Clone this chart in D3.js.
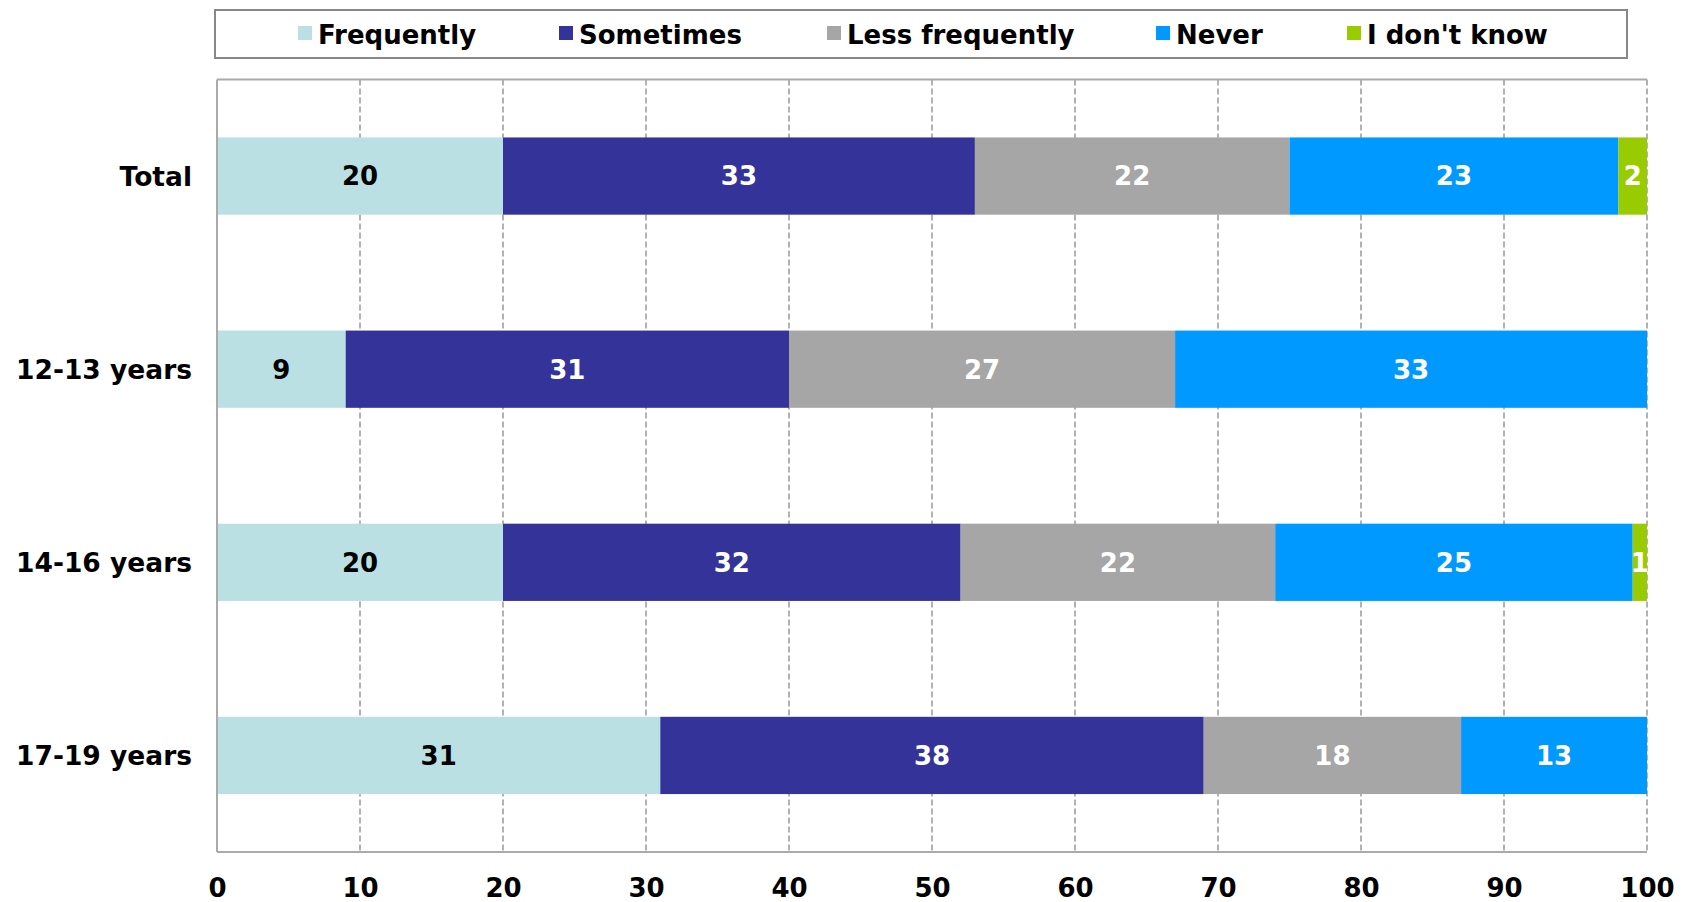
<!DOCTYPE html>
<html>
<head>
<meta charset="utf-8">
<script src="https://cdn.jsdelivr.net/npm/d3@7"></script>
<style>
  html, body { margin: 0; padding: 0; background: #fff; }
  svg { display: block; font-family: "DejaVu Sans", Verdana, sans-serif; font-weight: bold; }
</style>
</head>
<body>
<svg id="chart" width="1682" height="902"></svg>
<script>
// Age groups shown as rows
const categories = ["Total", "12-13 years", "14-16 years", "17-19 years"];

// Answer options (stack order, left to right)
const seriesNames = ["Frequently", "Sometimes", "Less frequently", "Never", "I don't know"];
const seriesColors = ["#BBE0E3", "#333399", "#A6A6A6", "#0099FF", "#99CC00"];
const labelColors = ["#000000", "#ffffff", "#ffffff", "#ffffff", "#ffffff"];

// Percentages per series, one value per category
const frequently     = [20, 9, 20, 31];
const sometimes      = [33, 31, 32, 38];
const lessFrequently = [22, 27, 22, 18];
const never          = [23, 33, 25, 13];
const dontKnow       = [2, 0, 1, 0];

const xTicks = [0, 10, 20, 30, 40, 50, 60, 70, 80, 90, 100];

const seriesValues = [frequently, sometimes, lessFrequently, never, dontKnow];

const rows = categories.map((c, i) => {
  const r = { category: c };
  seriesNames.forEach((s, j) => { r[s] = seriesValues[j][i]; });
  return r;
});

const svg = d3.select("#chart");
const margin = { left: 217, right: 35, top: 79.5, bottom: 50 };
const W = 1682, H = 902;
const x = d3.scaleLinear().domain([0, 100]).range([margin.left, W - margin.right]);
const y = d3.scaleBand().domain(categories).range([margin.top, H - margin.bottom]).paddingInner(0.6).paddingOuter(0.3);

// Gridlines (dashed)
svg.append("g")
  .selectAll("line")
  .data(xTicks.filter(t => t > 0))
  .join("line")
  .attr("x1", d => x(d)).attr("x2", d => x(d))
  .attr("y1", margin.top).attr("y2", H - margin.bottom)
  .attr("stroke", "#999")
  .attr("stroke-width", 1.5)
  .attr("stroke-dasharray", "6,3");

// Stacked bars
const stack = d3.stack().keys(seriesNames);
const layers = stack(rows);

const layerG = svg.append("g")
  .selectAll("g")
  .data(layers)
  .join("g")
  .attr("fill", (d, i) => seriesColors[i]);

layerG.selectAll("rect")
  .data(d => d.filter(p => p[1] - p[0] > 0))
  .join("rect")
  .attr("x", d => x(d[0]))
  .attr("width", d => x(d[1]) - x(d[0]))
  .attr("y", d => y(d.data.category))
  .attr("height", y.bandwidth());

// Value labels
layerG.each(function (layer, i) {
  d3.select(this).selectAll("text")
    .data(layer.filter(p => p[1] - p[0] > 0))
    .join("text")
    .attr("x", d => (x(d[0]) + x(d[1])) / 2)
    .attr("y", d => y(d.data.category) + y.bandwidth() / 2)
    .attr("dy", "0.36em")
    .attr("text-anchor", "middle")
    .attr("font-size", 26)
    .attr("fill", labelColors[i])
    .text(d => d[1] - d[0]);
});

// Plot frame: left, top, bottom solid
const frame = svg.append("g").attr("stroke", "#aaa").attr("stroke-width", 2);
frame.append("line").attr("x1", x(0)).attr("x2", x(0)).attr("y1", margin.top).attr("y2", H - margin.bottom);
frame.append("line").attr("x1", x(0)).attr("x2", x(100)).attr("y1", margin.top).attr("y2", margin.top);
frame.append("line").attr("x1", x(0)).attr("x2", x(100)).attr("y1", H - margin.bottom).attr("y2", H - margin.bottom);

// X axis tick labels
const xAxis = d3.axisBottom(x).tickValues(xTicks).tickSize(0).tickPadding(0);
const xg = svg.append("g").attr("transform", `translate(0,${H - margin.bottom})`).call(xAxis);
xg.select(".domain").remove();
xg.selectAll("text")
  .attr("font-family", "'DejaVu Sans', Verdana, sans-serif")
  .attr("font-weight", "bold")
  .attr("font-size", 26)
  .attr("fill", "#000")
  .attr("y", 36)
  .attr("dy", "0.36em");

// Y axis category labels
const yAxis = d3.axisLeft(y).tickSize(0).tickPadding(0);
const yg = svg.append("g").attr("transform", `translate(${margin.left - 25},0)`).call(yAxis);
yg.select(".domain").remove();
yg.selectAll("text")
  .attr("font-family", "'DejaVu Sans', Verdana, sans-serif")
  .attr("font-weight", "bold")
  .attr("font-size", 26.5)
  .attr("fill", "#000")
  .attr("dy", "0.36em");

// Legend
const legend = svg.append("g");
legend.append("rect")
  .attr("x", 215).attr("y", 10)
  .attr("width", 1412).attr("height", 48)
  .attr("fill", "#fff")
  .attr("stroke", "#888")
  .attr("stroke-width", 2);

const legendX = [298, 559, 827, 1156, 1347];
const item = legend.selectAll("g.item")
  .data(seriesNames)
  .join("g")
  .attr("class", "item")
  .attr("transform", (d, i) => `translate(${legendX[i]},26)`);
item.append("rect")
  .attr("width", 14).attr("height", 14)
  .attr("fill", (d, i) => seriesColors[i]);
item.append("text")
  .attr("x", 20).attr("y", 9)
  .attr("dy", "0.36em")
  .attr("font-size", 26)
  .attr("fill", "#000")
  .text(d => d);
</script>
</body>
</html>
